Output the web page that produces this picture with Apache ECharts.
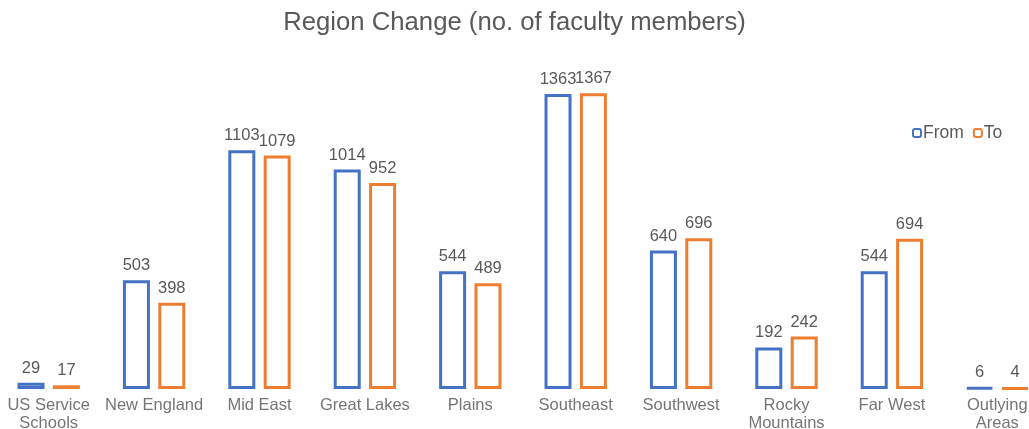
<!DOCTYPE html>
<html>
<head>
<meta charset="utf-8">
<script src="https://cdn.jsdelivr.net/npm/echarts@6/dist/echarts.min.js"></script>
<style>
  html, body { margin: 0; padding: 0; background: #fff; }
  #chart { width: 1029px; height: 429px; }
</style>
</head>
<body>
<div id="chart"></div>
<script>
var regions = ['US Service\nSchools', 'New England', 'Mid East', 'Great Lakes', 'Plains',
  'Southeast', 'Southwest', 'Rocky\nMountains', 'Far West', 'Outlying\nAreas'];
var fromValues = [29, 503, 1103, 1014, 544, 1363, 640, 192, 544, 6];
var toValues = [17, 398, 1079, 952, 489, 1367, 696, 242, 694, 4];

var chart = echarts.init(document.getElementById('chart'));

var labelStyle = {
  show: true,
  position: 'top',
  color: '#595959',
  fontSize: 16.5,
  fontFamily: 'Liberation Sans',
  distance: 6
};

var option = {
  animation: false,
  title: {
    text: 'Region Change (no. of faculty members)',
    left: 'center',
    top: 5,
    textStyle: { color: '#595959', fontSize: 25.7, fontWeight: 'normal', fontFamily: 'Liberation Sans' }
  },
  legend: {
    data: ['From', 'To'],
    left: 907,
    top: 119,
    itemWidth: 8,
    itemHeight: 8,
    itemGap: 9,
    textStyle: { color: '#595959', fontSize: 17.5, fontFamily: 'Liberation Sans', padding: [0, 0, 0, -3] }
  },
  grid: { left: -4, width: 1054, top: 86, bottom: 40, outerBoundsMode: 'none', containLabel: false },
  xAxis: {
    type: 'category',
    data: regions,
    axisLine: { show: false },
    axisTick: { show: false },
    axisLabel: { color: '#757575', fontSize: 16.5, fontFamily: 'Liberation Sans', margin: 7, lineHeight: 18, interval: 0 }
  },
  yAxis: {
    type: 'value',
    min: 0,
    max: 1400,
    show: false,
    splitLine: { show: false }
  },
  series: [
    {
      name: 'From',
      type: 'bar',
      data: fromValues,
      barWidth: 27,
      barGap: '31%',
      itemStyle: { color: '#ffffff', borderColor: '#4472C4', borderWidth: 3 },
      label: labelStyle
    },
    {
      name: 'To',
      type: 'bar',
      data: toValues,
      barWidth: 27,
      itemStyle: { color: '#ffffff', borderColor: '#ED7D31', borderWidth: 3 },
      label: labelStyle
    }
  ]
};

chart.setOption(option);
</script>
</body>
</html>
